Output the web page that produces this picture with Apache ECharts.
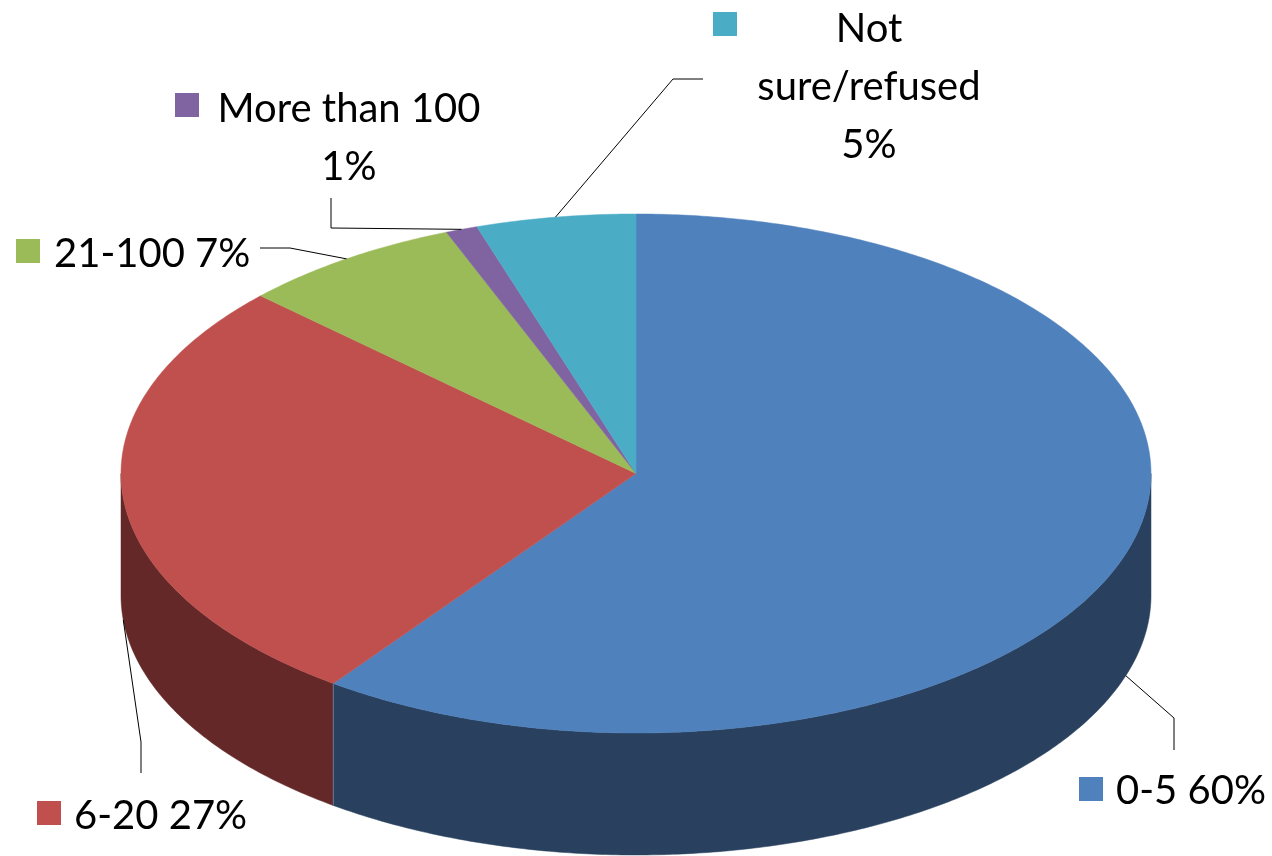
<!DOCTYPE html>
<html>
<head>
<meta charset="utf-8">
<title>Pie</title>
<script src="https://cdn.jsdelivr.net/npm/echarts@6/dist/echarts.min.js"></script>
<style>
  html, body { margin: 0; padding: 0; background: #fff; }
  #main { width: 1272px; height: 856px; }
</style>
</head>
<body>
<div id="main"></div>
<script>
// chart data
const categories = ['0-5', '6-20', '21-100', 'More than 100', 'Not sure/refused']
const percents = [60, 27, 7, 1, 5]
const topColors = ['#4F81BD', '#C0504D', '#9BBB59', '#8064A2', '#4BACC6']
const sideColors = ['#29415F', '#632827', '#5E7135', '#4C3C61', '#2C6777']
const labelLines = [['0-5 60%'], ['6-20 27%'], ['21-100 7%'], ['More than 100', '1%'], ['Not', 'sure/refused', '5%']]

// layout of the tilted pie
const cx = 636
const cy = 473.5
const rx = 515
const ry = 259.5
const depth = 122
const fontFamily = 'Lato, "Open Sans", sans-serif'
const fontSize = 40
const lineGap = 58

// key box corner, text anchor and the two outer leader points, per slice
const keyPos = [[1079, 777], [37, 801], [16, 239], [175, 93], [713, 12]]
const textPos = [[1116, 791], [74, 816], [54, 254], [349, 109], [869, 29]]
const textAlign = ['left', 'left', 'left', 'center', 'center']
const leaderPos = [
  [[1174, 718], [1174, 750]],
  [[141, 742], [141, 773]],
  [[290, 248], [260, 248]],
  [[331, 228], [331, 198]],
  [[673, 79], [703, 79]]
]

const total = percents.reduce((a, b) => a + b, 0)
const toAngle = v => echarts.number.linearMap(v, [0, total], [0, Math.PI * 2])

// clockwise from 12 o'clock, y pointing down
function rimPoint(angle, drop) {
  return [cx + rx * Math.sin(angle), cy - ry * Math.cos(angle) + drop]
}

function arc(from, to, drop) {
  const steps = Math.max(2, Math.ceil((to - from) / 0.01))
  const pts = []
  for (let i = 0; i <= steps; i++) {
    pts.push(rimPoint(from + (to - from) * i / steps, drop))
  }
  return pts
}

function cumBefore(idx) {
  return percents.slice(0, idx).reduce((a, b) => a + b, 0)
}

function renderSlice(params, api) {
  const idx = params.dataIndex
  const start = toAngle(cumBefore(idx))
  const end = toAngle(cumBefore(idx) + api.value(0))
  const children = []

  // only the front half of the wall can be seen
  const wallFrom = Math.max(start, Math.PI / 2)
  const wallTo = Math.min(end, Math.PI * 1.5)
  if (wallTo > wallFrom) {
    const wall = arc(wallFrom, wallTo, 0).concat(arc(wallFrom, wallTo, depth).reverse())
    children.push({
      type: 'polygon',
      shape: { points: wall },
      style: { fill: sideColors[idx], stroke: sideColors[idx], lineWidth: 0.5 }
    })
  }
  children.push({
    type: 'polygon',
    shape: { points: [[cx, cy]].concat(arc(start, end, 0)) },
    style: { fill: topColors[idx], stroke: topColors[idx], lineWidth: 0.5 }
  })
  return { type: 'group', children: children }
}

// thin light seam where the blue and red walls meet
function seamGraphic() {
  const p = rimPoint(toAngle(percents[0]), 0)
  return {
    type: 'line',
    z: 5,
    shape: { x1: p[0], y1: p[1], x2: p[0], y2: p[1] + depth },
    style: { stroke: '#5F7F9F', lineWidth: 1 }
  }
}

function leaderGraphic(idx) {
  const mid = toAngle(cumBefore(idx) + percents[idx] / 2)
  const front = Math.cos(mid) < 0 || idx < 2
  const anchor = rimPoint(mid, front ? depth : 0)
  return {
    type: 'polyline',
    z: 6,
    shape: { points: [anchor].concat(leaderPos[idx]) },
    style: { fill: 'none', stroke: '#000', lineWidth: 1 }
  }
}

function labelGraphics(idx) {
  const out = [{
    type: 'rect',
    z: 6,
    shape: { x: keyPos[idx][0], y: keyPos[idx][1], width: 24, height: 24 },
    style: { fill: topColors[idx] }
  }]
  labelLines[idx].forEach((line, i) => {
    out.push({
      type: 'text',
      z: 6,
      x: textPos[idx][0],
      y: textPos[idx][1] + i * lineGap,
      style: {
        text: line,
        fill: '#000',
        font: fontSize + 'px ' + fontFamily,
        textAlign: textAlign[idx],
        textVerticalAlign: 'middle'
      }
    })
  })
  return out
}

const myChart = echarts.init(document.getElementById('main'), null, { renderer: 'canvas' })

let graphics = [seamGraphic()]
categories.forEach((c, i) => {
  graphics.push(leaderGraphic(i))
  graphics = graphics.concat(labelGraphics(i))
})

myChart.setOption({
  animation: false,
  backgroundColor: '#fff',
  graphic: graphics,
  series: [
    {
      type: 'custom',
      coordinateSystem: 'none',
      silent: true,
      renderItem: renderSlice,
      data: categories.map((c, i) => ({ name: c, value: [percents[i]] }))
    }
  ]
})
</script>
</body>
</html>
